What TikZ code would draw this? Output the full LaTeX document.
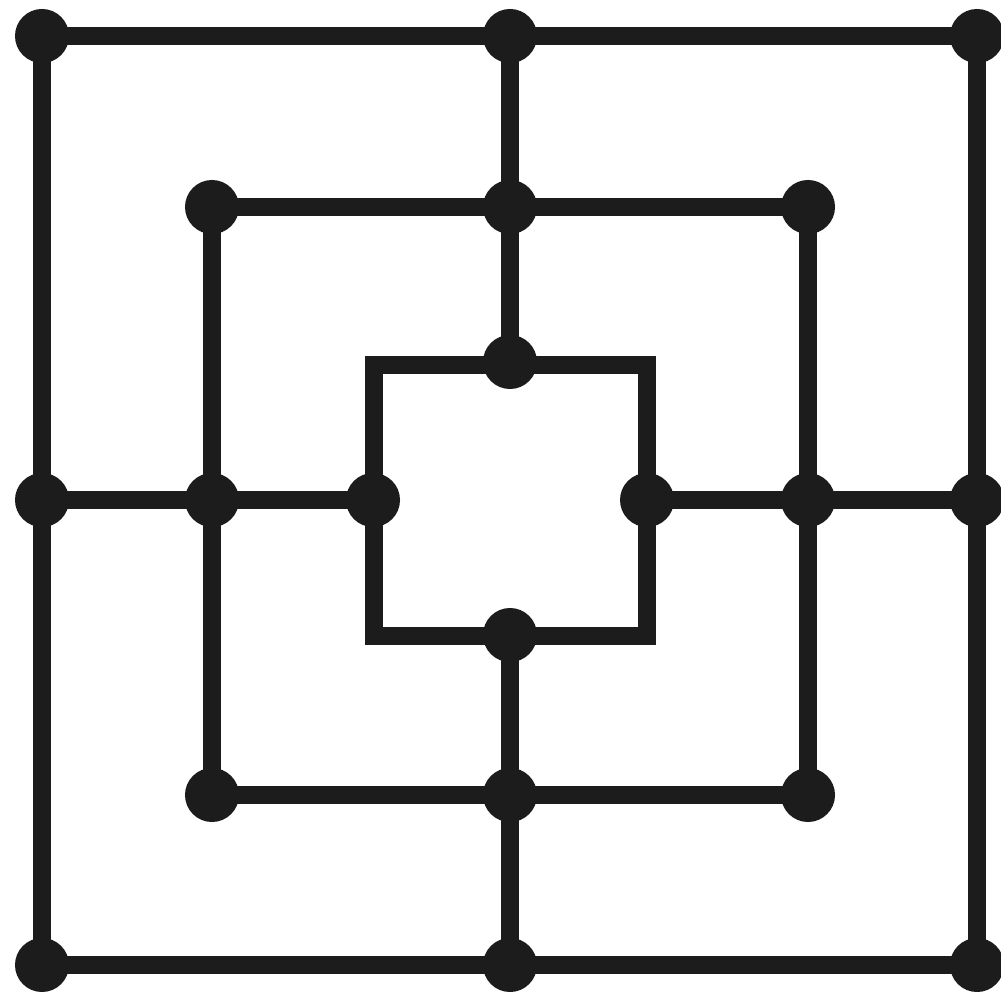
\documentclass[tikz,border=0pt]{standalone}
\usetikzlibrary{backgrounds}
\definecolor{ink}{RGB}{28,28,28}
\begin{document}
\begin{tikzpicture}[x=0.01cm,y=-0.01cm,
  dot/.style={circle,fill=ink,inner sep=0pt,minimum size=0.54cm},
  board/.style={draw=ink,line width=0.175cm,line join=miter}]
\useasboundingbox (0,0) rectangle (1001,992);
% outer square
\node[dot] (o1) at (42,36) {};
\node[dot] (o2) at (510,36) {};
\node[dot] (o3) at (977,36) {};
\node[dot] (o4) at (42,500) {};
\node[dot] (o6) at (977,500) {};
\node[dot] (o7) at (42,965) {};
\node[dot] (o8) at (510,965) {};
\node[dot] (o9) at (977,965) {};
% middle square
\node[dot] (m1) at (212,207) {};
\node[dot] (m2) at (510,207) {};
\node[dot] (m3) at (808,207) {};
\node[dot] (m4) at (212,500) {};
\node[dot] (m6) at (808,500) {};
\node[dot] (m7) at (212,795) {};
\node[dot] (m8) at (510,795) {};
\node[dot] (m9) at (808,795) {};
% inner square
\coordinate (c1) at (374,365);
\coordinate (c3) at (647,365);
\coordinate (c7) at (374,636);
\coordinate (c9) at (647,636);
\node[dot] (i2) at (510,362) {};
\node[dot] (i4) at (373,500) {};
\node[dot] (i6) at (647,500) {};
\node[dot] (i8) at (510,635) {};
\begin{scope}[on background layer]
\draw[board] (o1.center) -- (o3.center) -- (o9.center) -- (o7.center) -- cycle;
\draw[board] (m1.center) -- (m3.center) -- (m9.center) -- (m7.center) -- cycle;
\draw[board] (c1) -- (c3) -- (c9) -- (c7) -- cycle;
\draw[board] (o2.center) -- (m2.center) -- (i2.center);
\draw[board] (o8.center) -- (m8.center) -- (i8.center);
\draw[board] (o4.center) -- (m4.center) -- (i4.center);
\draw[board] (o6.center) -- (m6.center) -- (i6.center);
\end{scope}
\end{tikzpicture}
\end{document}
